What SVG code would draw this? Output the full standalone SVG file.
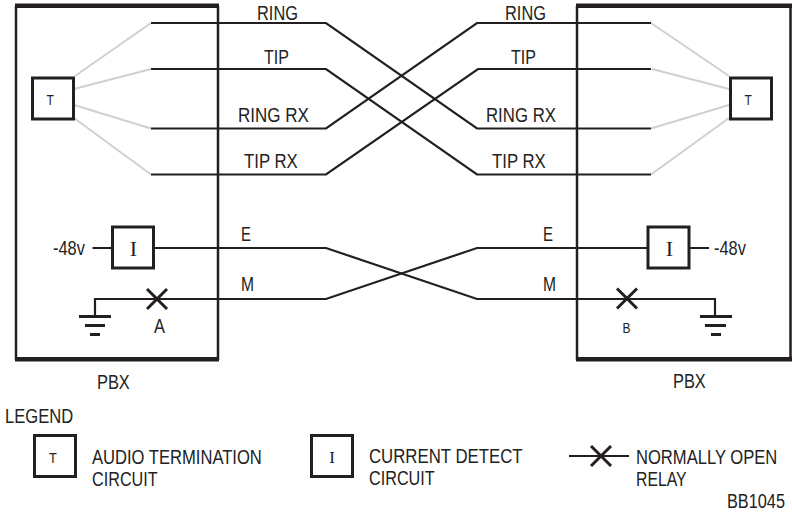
<svg xmlns="http://www.w3.org/2000/svg" width="792" height="520" viewBox="0 0 792 520">
<style>
text{font-family:"Liberation Sans",Arial,sans-serif;font-size:20px;fill:#222}
.s{font-size:15px}.q{font-family:"Liberation Serif","Times New Roman",serif;font-size:22px}
.w{fill:none;stroke:#231f20;stroke-width:2.2}
.g{fill:none;stroke:#d0d0d0;stroke-width:2}
.b{fill:none;stroke:#231f20;stroke-width:2.5}
.h{fill:none;stroke:#231f20;stroke-width:3}
.n{fill:#fff;stroke:#231f20;stroke-width:3}
.x{fill:none;stroke:#231f20;stroke-width:3}
</style>
<g id="connectors">
<path class="g" d="M75 76L151 23M74 89L151 69M74 105L151 128.500M74 118L151 174.500"/>
<path class="g" d="M651 23L729 76M652 69L729 89M651 128.500L729 105M651 174.500L729 118"/>
<path class="w" d="M151 23H326L477 128.500H651"/>
<path class="w" d="M151 69H326L477 174.500H651"/>
<path class="w" d="M151 128.500H326L477 23H651"/>
<path class="w" d="M151 174.500H326L478 69H651"/>
<path class="w" d="M92.500 248H112M154 248H326L477 299H715V316"/>
<path class="w" d="M95 316V299H326L477 248H647M690 248H709"/>
</g>
<g id="pbx-left">
<path class="b" d="M16 360V6M218 360V6"/>
<path d="M15 3.500H219V8H15ZM15 357H219V361.500H15Z" fill="#231f20"/>
<text transform="translate(97 389) scale(.82 1)">PBX</text>
</g>
<g id="pbx-right">
<path class="b" d="M577 360V6M790.500 360V6"/>
<path d="M576 3.500H792V8H576ZM576 357H792V361.500H576Z" fill="#231f20"/>
<text transform="translate(673 388) scale(.82 1)">PBX</text>
</g>
<g id="t-left"><rect class="n" x="32.500" y="78" width="41" height="41"/><text class="s" transform="translate(46.500 105) scale(.8 1)">T</text></g>
<g id="t-right"><rect class="n" x="730.500" y="78" width="41" height="41"/><text class="s" transform="translate(744.500 105) scale(.8 1)">T</text></g>
<g id="i-left"><rect class="n" x="112.500" y="227" width="41" height="41"/><text class="q" x="133.500" y="255.500" text-anchor="middle">I</text></g>
<g id="i-right"><rect class="n" x="648" y="227" width="41" height="41"/><text class="q" x="669.500" y="255.500" text-anchor="middle">I</text></g>
<g id="relay-a"><path class="x" d="M147 289L167 309M167 289L147 309"/><text transform="translate(154 333) scale(.82 1)">A</text></g>
<g id="relay-b"><path class="x" d="M617 288.500L637 308.500M637 288.500L617 308.500"/><text class="s" transform="translate(622.500 333) scale(.8 1)">B</text></g>
<g id="ground-left"><path class="h" d="M79 316.500H111M85 325.500H105M90 334.500H100"/></g>
<g id="ground-right"><path class="h" d="M700 316.500H732M705 325.500H726M711 334.500H721"/></g>
<g id="labels">
<text transform="translate(257 20) scale(.82 1)">RING</text>
<text transform="translate(264 64) scale(.8 1)">TIP</text>
<text transform="translate(238 122) scale(.85 1)">RING RX</text>
<text transform="translate(244 168) scale(.84 1)">TIP RX</text>
<text transform="translate(505 20) scale(.82 1)">RING</text>
<text transform="translate(511 64) scale(.8 1)">TIP</text>
<text transform="translate(486 122) scale(.84 1)">RING RX</text>
<text transform="translate(492 168) scale(.84 1)">TIP RX</text>
<text transform="translate(241 240.500) scale(.75 1)">E</text>
<text transform="translate(241 291) scale(.78 1)">M</text>
<text transform="translate(543 240.500) scale(.75 1)">E</text>
<text transform="translate(543 291) scale(.78 1)">M</text>
<text transform="translate(53 255) scale(.82 1)">-48v</text>
<text transform="translate(714 255) scale(.82 1)">-48v</text>
</g>
<g id="legend">
<text transform="translate(5 423) scale(.83 1)">LEGEND</text>
<rect class="n" x="34.500" y="435.500" width="41" height="41"/><text class="s" transform="translate(49 463) scale(.85 1)">T</text>
<text transform="translate(92 464) scale(.83 1)">AUDIO TERMINATION</text>
<text transform="translate(92 486) scale(.81 1)">CIRCUIT</text>
<rect class="n" x="311.500" y="435.500" width="41" height="41"/><text class="q" x="332" y="463" text-anchor="middle" style="font-size:17px">I</text>
<text transform="translate(369 463) scale(.84 1)">CURRENT DETECT</text>
<text transform="translate(369 485) scale(.81 1)">CIRCUIT</text>
<path class="w" d="M569 456H629"/><path class="x" d="M591 446L611 466M611 446L591 466"/>
<text transform="translate(636 464) scale(.83 1)">NORMALLY OPEN</text>
<text transform="translate(636 486) scale(.79 1)">RELAY</text>
<text transform="translate(727 508) scale(.815 1)">BB1045</text>
</g>
</svg>
